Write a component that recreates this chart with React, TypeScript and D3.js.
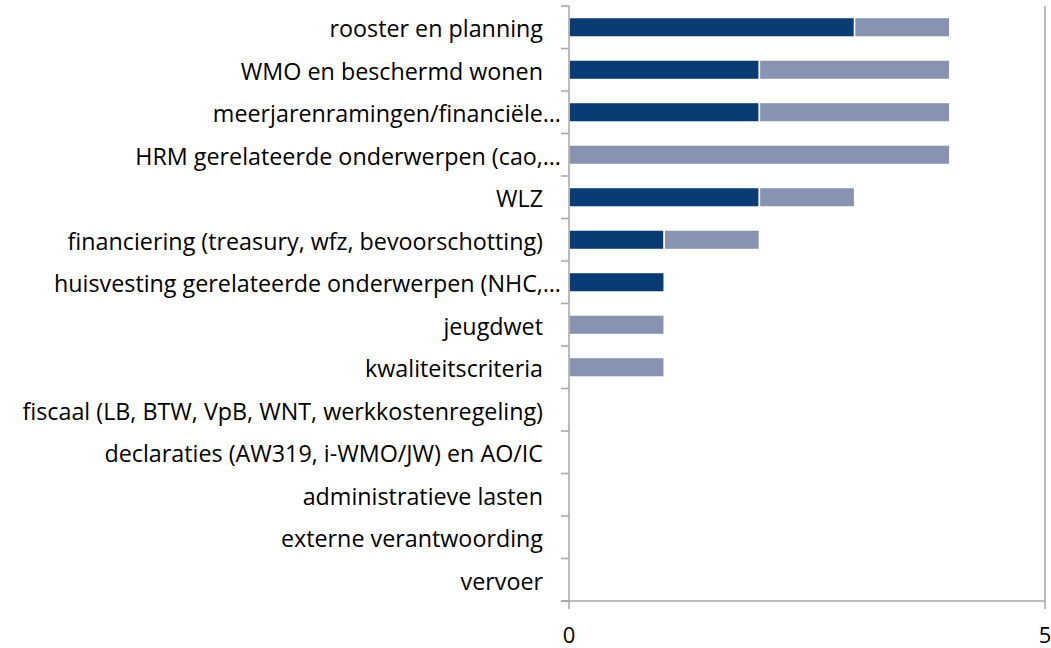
import React, { useEffect, useRef } from 'react';
import * as d3 from 'd3';

const categories = [
  'rooster en planning',
  'WMO en beschermd wonen ',
  'meerjarenramingen/financiële…',
  'HRM gerelateerde onderwerpen (cao,…',
  'WLZ ',
  'financiering (treasury, wfz, bevoorschotting)',
  'huisvesting gerelateerde onderwerpen (NHC,…',
  'jeugdwet ',
  'kwaliteitscriteria ',
  'fiscaal (LB, BTW, VpB, WNT, werkkostenregeling)',
  'declaraties (AW319, i-WMO/JW) en AO/IC',
  'administratieve lasten',
  'externe verantwoording',
  'vervoer',
];

// first (dark) and second (light) series
const seriesA = [3, 2, 2, 0, 2, 1, 1, 0, 0, 0, 0, 0, 0, 0];
const seriesB = [1, 2, 2, 4, 1, 1, 0, 1, 1, 0, 0, 0, 0, 0];

const xTicks = [0, 5];
const colors = ['#0a3b74', '#8793b0'];

export default function App() {
  const svgRef = useRef<SVGSVGElement>(null);

  useEffect(() => {
    if (!svgRef.current) return;
    const svg = d3.select(svgRef.current);
    svg.selectAll('*').remove();

    const width = 1051;
    const height = 648;
    const margin = { top: 6, right: 6, bottom: 47, left: 569 };
    const font = 'Open Sans, sans-serif';

    const x = d3.scaleLinear()
      .domain([0, 5])
      .range([margin.left, width - margin.right]);

    const y = d3.scaleBand()
      .domain(categories)
      .range([margin.top, height - margin.bottom])
      .paddingInner(0.54)
      .paddingOuter(0.27);

    const step = y.step();
    const bandTop = (c: string) => y(c)! - y.paddingInner() * step / 2;

    // gridline at 5
    svg.append('line')
      .attr('x1', x(5)).attr('x2', x(5))
      .attr('y1', margin.top).attr('y2', height - margin.bottom)
      .attr('stroke', '#a6a6a6').attr('stroke-width', 1.5);

    const rows = categories.map((c, i) => ({ c, a: seriesA[i], b: seriesB[i] }));
    const stacked = d3.stack<any>().keys(['a', 'b'])(rows);

    stacked.forEach((layer, li) => {
      svg.append('g')
        .selectAll('rect')
        .data(layer.filter(d => d[1] - d[0] > 0))
        .enter()
        .append('rect')
        .attr('x', d => x(d[0]))
        .attr('y', d => y(d.data.c)!)
        .attr('width', d => x(d[1]) - x(d[0]))
        .attr('height', y.bandwidth())
        .attr('fill', colors[li])
        .attr('stroke', '#ffffff')
        .attr('stroke-width', 1.5);
    });

    // y axis line and ticks
    const yAxis = svg.append('g');
    yAxis.append('line')
      .attr('x1', x(0)).attr('x2', x(0))
      .attr('y1', margin.top).attr('y2', height - margin.bottom)
      .attr('stroke', '#a6a6a6').attr('stroke-width', 1.5);
    const boundaries = categories.map(c => bandTop(c)).concat([height - margin.bottom]);
    yAxis.selectAll('.tk')
      .data(boundaries)
      .enter()
      .append('line')
      .attr('x1', x(0) - 8).attr('x2', x(0))
      .attr('y1', d => d).attr('y2', d => d)
      .attr('stroke', '#a6a6a6').attr('stroke-width', 1.5);
    // truncated labels (ending in …) run up to the axis ticks
    yAxis.selectAll('text')
      .data(categories)
      .enter()
      .append('text')
      .attr('x', c => c.endsWith('…') ? x(0) - 8 : x(0) - 26)
      .attr('y', c => y(c)! + y.bandwidth() / 2)
      .attr('dy', '0.43em')
      .attr('text-anchor', 'end')
      .attr('font-family', font)
      .attr('font-size', 23.3)
      .attr('fill', '#000')
      .text(c => c.trimEnd());

    // x axis
    const xAxis = svg.append('g');
    xAxis.append('line')
      .attr('x1', x(0) - 8).attr('x2', x(5))
      .attr('y1', height - margin.bottom).attr('y2', height - margin.bottom)
      .attr('stroke', '#a6a6a6').attr('stroke-width', 1.5);
    xAxis.selectAll('.xt')
      .data(xTicks)
      .enter()
      .append('line')
      .attr('x1', d => x(d)).attr('x2', d => x(d))
      .attr('y1', height - margin.bottom).attr('y2', height - margin.bottom + 8)
      .attr('stroke', '#a6a6a6').attr('stroke-width', 1.5);
    xAxis.selectAll('text')
      .data(xTicks)
      .enter()
      .append('text')
      .attr('x', d => x(d))
      .attr('y', height - margin.bottom + 42)
      .attr('text-anchor', 'middle')
      .attr('font-family', font)
      .attr('font-size', 22)
      .attr('fill', '#000')
      .text(d => String(d));
  }, []);

  return (
    <svg
      ref={svgRef}
      width={1051}
      height={648}
      style={{ position: 'absolute', left: 0, top: 0, background: '#fff' }}
    />
  );
}
